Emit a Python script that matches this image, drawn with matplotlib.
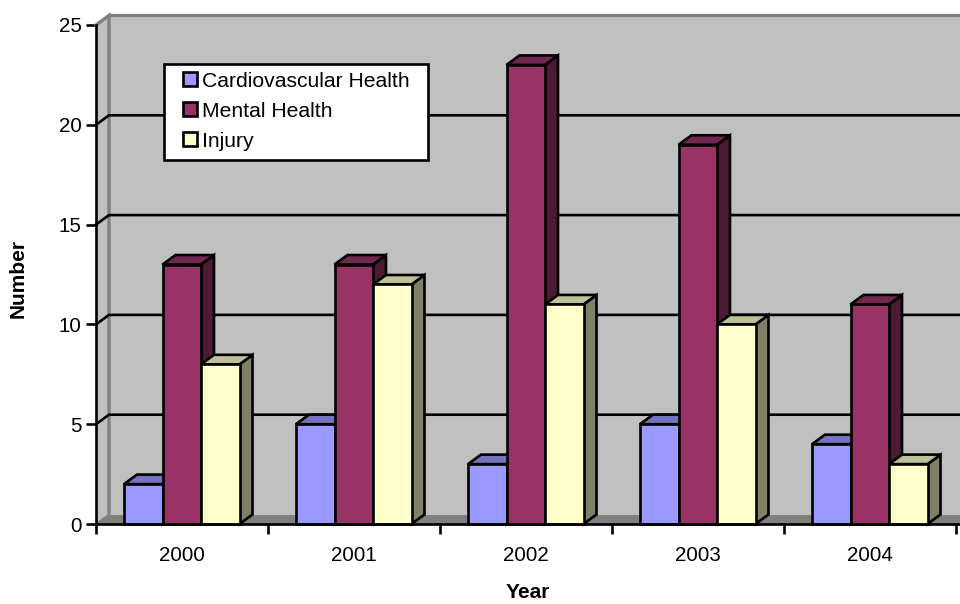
import numpy as np
import matplotlib
matplotlib.use('Agg')
import matplotlib.pyplot as plt
from matplotlib.patches import Polygon, Rectangle

plt.rcParams['font.family'] = ['Liberation Sans', 'DejaVu Sans']

years = ['2000', '2001', '2002', '2003', '2004']
cardio = [2, 5, 3, 5, 4]
mental = [13, 13, 23, 19, 11]
injury = [8, 12, 11, 10, 3]
y_ticks = [0, 5, 10, 15, 20, 25]

names = ['Cardiovascular Health', 'Mental Health', 'Injury']
series = [cardio, mental, injury]
front_colors = ['#9999ff', '#993366', '#ffffcc']
top_colors = ['#7373bf', '#732650', '#bfbf99']
side_colors = ['#4d4d80', '#4d1a33', '#808066']

W, H = 960, 604
LW = 1.9
fig = plt.figure(figsize=(W / 100, H / 100), dpi=100, facecolor='white')
ax = fig.add_axes([96 / W, 1 - 524 / H, 864 / W, 499 / H])
ax.set_xlim(0, 864 / 172)
ax.set_ylim(0, 25)

# depth of the fake 3d box, pixels converted to data units
dx = 13 / 172
dy = 9.5 / 19.96
bar_w = 38.5 / 172
start = 28 / 172
xmax = ax.get_xlim()[1]

# walls and floor
ax.add_patch(Polygon([(0, 0), (dx, dy), (dx, 25 + dy), (0, 25)], fc='#c0c0c0', ec='none', clip_on=False, zorder=1))
ax.add_patch(Polygon([(dx, dy), (xmax, dy), (xmax, 25 + dy), (dx, 25 + dy)], fc='#c0c0c0', ec='none', clip_on=False, zorder=1))
ax.add_patch(Polygon([(0, 0), (xmax, 0), (xmax, dy), (dx, dy)], fc='#808080', ec='none', clip_on=False, zorder=1))
ax.plot([0, dx, dx], [25, 25 + dy, dy], color='#808080', lw=2.4, clip_on=False, zorder=2, solid_joinstyle='miter')
ax.plot([dx, xmax], [25 + dy, 25 + dy], color='#808080', lw=2.4, clip_on=False, zorder=2)
ax.plot([0, dx], [0, dy], color='#808080', lw=1.2, clip_on=False, zorder=2)

for t in y_ticks[1:-1]:
    ax.plot([0, dx, xmax], [t, t + dy, t + dy], color='black', lw=LW, clip_on=False, zorder=2)

# bars, drawn left to right so each one covers the side of the one before
z = 3
for g in range(len(years)):
    for s in range(len(series)):
        v = series[s][g]
        x0 = g + start + s * bar_w
        x1 = x0 + bar_w
        ax.add_patch(Polygon([(x1, 0), (x1 + dx, dy), (x1 + dx, v + dy), (x1, v)], fc=side_colors[s],
                             ec='black', lw=LW, clip_on=False, zorder=z))
        ax.add_patch(Polygon([(x0, v), (x0 + dx, v + dy), (x1 + dx, v + dy), (x1, v)], fc=top_colors[s],
                             ec='black', lw=LW, clip_on=False, zorder=z))
        ax.bar(x0, v, width=bar_w, align='edge', color=front_colors[s], edgecolor='black', linewidth=LW,
               clip_on=False, zorder=z + 0.5)
        z += 1

ax.set_facecolor('white')
for side in ['top', 'right']:
    ax.spines[side].set_visible(False)
for side in ['left', 'bottom']:
    ax.spines[side].set_linewidth(LW)
    ax.spines[side].set_zorder(50)

ax.set_yticks(y_ticks)
ax.set_xticks(range(6))
ax.set_xticklabels([])
ax.set_xticks(np.arange(5) + 0.5, minor=True)
ax.set_xticklabels(years, minor=True)
ax.tick_params(axis='both', which='major', length=7.2, width=LW, labelsize=14.8, pad=3)
ax.tick_params(axis='x', which='minor', length=0, labelsize=14.8, pad=15.5)

fig.text(528 / W, 1 - 592 / H, 'Year', fontsize=15, fontweight='bold', ha='center', va='center')
fig.text(18 / W, 1 - 279 / H, 'Number', fontsize=15, fontweight='bold', rotation=90, ha='center', va='center')


def px(x, y):
    return x / W, 1 - y / H


# legend box is placed by hand, the padding in the original is not even
fig.add_artist(Rectangle(px(164, 160), 264 / W, 96 / H, transform=fig.transFigure, fc='white', ec='black',
                         lw=LW, zorder=60))
for i in range(len(names)):
    fig.add_artist(Rectangle(px(183, 86 + 30 * i), 14 / W, 14 / H, transform=fig.transFigure, fc=front_colors[i],
                             ec='black', lw=LW, zorder=61))
    tx, ty = px(202, 87 + 30 * i)
    fig.text(tx, ty, names[i], fontsize=15.2, va='baseline', ha='left', zorder=61)

fig.savefig('out.png', dpi=100)
